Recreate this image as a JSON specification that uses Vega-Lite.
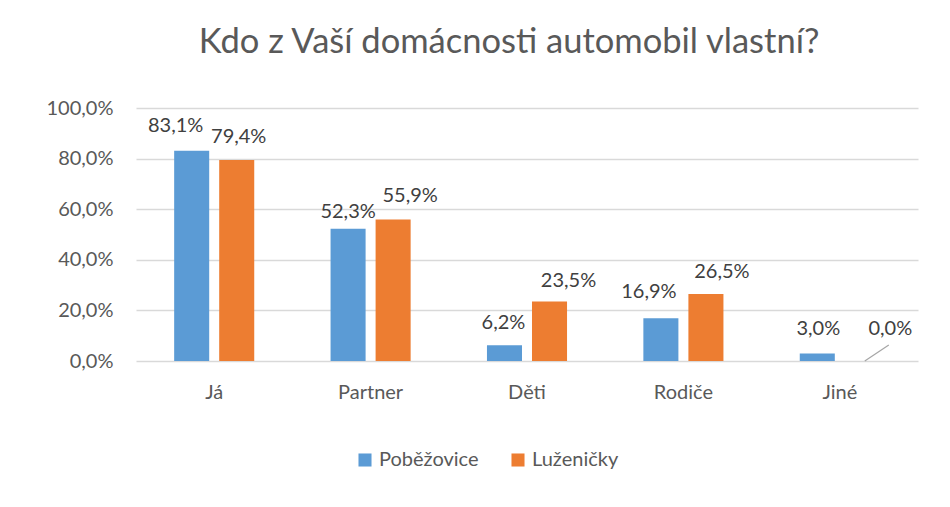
{
  "$schema": "https://vega.github.io/schema/vega-lite/v6.json",
  "width": 782,
  "height": 253,
  "autosize": {"type": "none"},
  "padding": {"left": 136, "top": 108, "right": 32, "bottom": 146},
  "background": "white",
  "config": {
    "locale": {"number": {"decimal": ",", "thousands": " ", "grouping": [3], "currency": ["", " Kč"]}},
    "view": {"stroke": null},
    "font": "Lato"
  },
  "title": {
    "text": "Kdo z Vaší domácnosti automobil vlastní?",
    "font": "Lato",
    "fontSize": 34.5,
    "fontWeight": "normal",
    "color": "#595959",
    "anchor": "middle",
    "dx": -18,
    "baseline": "alphabetic",
    "offset": 11
  },
  "data": {
    "values": [
      {"cat": "Já", "series": "Poběžovice", "value": 0.831},
      {"cat": "Já", "series": "Luženičky", "value": 0.794},
      {"cat": "Partner", "series": "Poběžovice", "value": 0.523},
      {"cat": "Partner", "series": "Luženičky", "value": 0.559},
      {"cat": "Děti", "series": "Poběžovice", "value": 0.062},
      {"cat": "Děti", "series": "Luženičky", "value": 0.235},
      {"cat": "Rodiče", "series": "Poběžovice", "value": 0.169},
      {"cat": "Rodiče", "series": "Luženičky", "value": 0.265},
      {"cat": "Jiné", "series": "Poběžovice", "value": 0.03},
      {"cat": "Jiné", "series": "Luženičky", "value": 0.0}
    ]
  },
  "encoding": {
    "x": {
      "field": "cat",
      "type": "nominal",
      "sort": ["Já", "Partner", "Děti", "Rodiče", "Jiné"],
      "scale": {"paddingInner": 0.488, "paddingOuter": 0.244},
      "axis": {
        "title": null,
        "domain": false,
        "ticks": false,
        "labelAngle": 0,
        "labelFont": "Lato",
        "labelFontSize": 20,
        "labelColor": "#595959",
        "labelPadding": 21
      }
    }
  },
  "layer": [
    {
      "mark": {"type": "bar"},
      "encoding": {
        "xOffset": {
          "field": "series",
          "type": "nominal",
          "sort": ["Poběžovice", "Luženičky"],
          "scale": {"paddingInner": 0.222, "paddingOuter": 0}
        },
        "y": {
          "field": "value",
          "type": "quantitative",
          "scale": {"domain": [0, 1]},
          "axis": {
            "title": null,
            "values": [0, 0.2, 0.4, 0.6, 0.8, 1.0],
            "format": ".1%",
            "domain": false,
            "ticks": false,
            "gridColor": "#D9D9D9",
            "gridWidth": 1.3,
            "labelFont": "Lato",
            "labelFontSize": 20,
            "labelColor": "#595959",
            "labelPadding": 23
          }
        },
        "color": {
          "field": "series",
          "type": "nominal",
          "sort": ["Poběžovice", "Luženičky"],
          "scale": {"domain": ["Poběžovice", "Luženičky"], "range": ["#5B9BD5", "#ED7D31"]},
          "legend": {
            "title": null,
            "orient": "none",
            "direction": "horizontal",
            "legendX": 219,
            "legendY": 342,
            "symbolType": "square",
            "symbolSize": 170,
            "symbolStrokeWidth": 0,
            "labelFont": "Lato",
            "labelFontSize": 20,
            "labelColor": "#595959",
            "labelOffset": 4,
            "columnPadding": 29
          }
        }
      }
    },
    {
      "encoding": {
        "xOffset": {
          "field": "series",
          "type": "nominal",
          "sort": ["Poběžovice", "Luženičky"],
          "scale": {"paddingInner": 0.222, "paddingOuter": 0}
        },
        "y": {"field": "value", "type": "quantitative"},
        "text": {"field": "value", "type": "quantitative", "format": ".1%"}
      },
      "layer": [
        {
          "transform": [{"filter": "datum.cat == 'Já' && datum.series == 'Poběžovice'"}],
          "mark": {"type": "text", "baseline": "alphabetic", "dx": -16, "dy": -19, "fontSize": 20, "font": "Lato", "color": "#404040"}
        },
        {
          "transform": [{"filter": "datum.cat == 'Já' && datum.series == 'Luženičky'"}],
          "mark": {"type": "text", "baseline": "alphabetic", "dx": 2, "dy": -17, "fontSize": 20, "font": "Lato", "color": "#404040"}
        },
        {
          "transform": [{"filter": "datum.cat == 'Partner' && datum.series == 'Poběžovice'"}],
          "mark": {"type": "text", "baseline": "alphabetic", "dx": 0, "dy": -11, "fontSize": 20, "font": "Lato", "color": "#404040"}
        },
        {
          "transform": [{"filter": "datum.cat == 'Partner' && datum.series == 'Luženičky'"}],
          "mark": {"type": "text", "baseline": "alphabetic", "dx": 17, "dy": -18, "fontSize": 20, "font": "Lato", "color": "#404040"}
        },
        {
          "transform": [{"filter": "datum.cat == 'Děti' && datum.series == 'Poběžovice'"}],
          "mark": {"type": "text", "baseline": "alphabetic", "dx": -1, "dy": -16, "fontSize": 20, "font": "Lato", "color": "#404040"}
        },
        {
          "transform": [{"filter": "datum.cat == 'Děti' && datum.series == 'Luženičky'"}],
          "mark": {"type": "text", "baseline": "alphabetic", "dx": 19, "dy": -15, "fontSize": 20, "font": "Lato", "color": "#404040"}
        },
        {
          "transform": [{"filter": "datum.cat == 'Rodiče' && datum.series == 'Poběžovice'"}],
          "mark": {"type": "text", "baseline": "alphabetic", "dx": -12, "dy": -20, "fontSize": 20, "font": "Lato", "color": "#404040"}
        },
        {
          "transform": [{"filter": "datum.cat == 'Rodiče' && datum.series == 'Luženičky'"}],
          "mark": {"type": "text", "baseline": "alphabetic", "dx": 16, "dy": -16, "fontSize": 20, "font": "Lato", "color": "#404040"}
        },
        {
          "transform": [{"filter": "datum.cat == 'Jiné' && datum.series == 'Poběžovice'"}],
          "mark": {"type": "text", "baseline": "alphabetic", "dx": 1, "dy": -18, "fontSize": 20, "font": "Lato", "color": "#404040"}
        },
        {
          "transform": [{"filter": "datum.cat == 'Jiné' && datum.series == 'Luženičky'"}],
          "mark": {"type": "text", "baseline": "alphabetic", "dx": 28, "dy": -26, "fontSize": 20, "font": "Lato", "color": "#404040"}
        }
      ]
    },
    {
      "transform": [{"filter": "datum.value == 0"}],
      "mark": {"type": "rule", "color": "#A6A6A6", "strokeWidth": 1.2, "xOffset": 25, "x2Offset": 49},
      "encoding": {
        "x2": {"field": "cat"},
        "y": {"datum": 0},
        "y2": {"datum": 0.063}
      }
    }
  ]
}
